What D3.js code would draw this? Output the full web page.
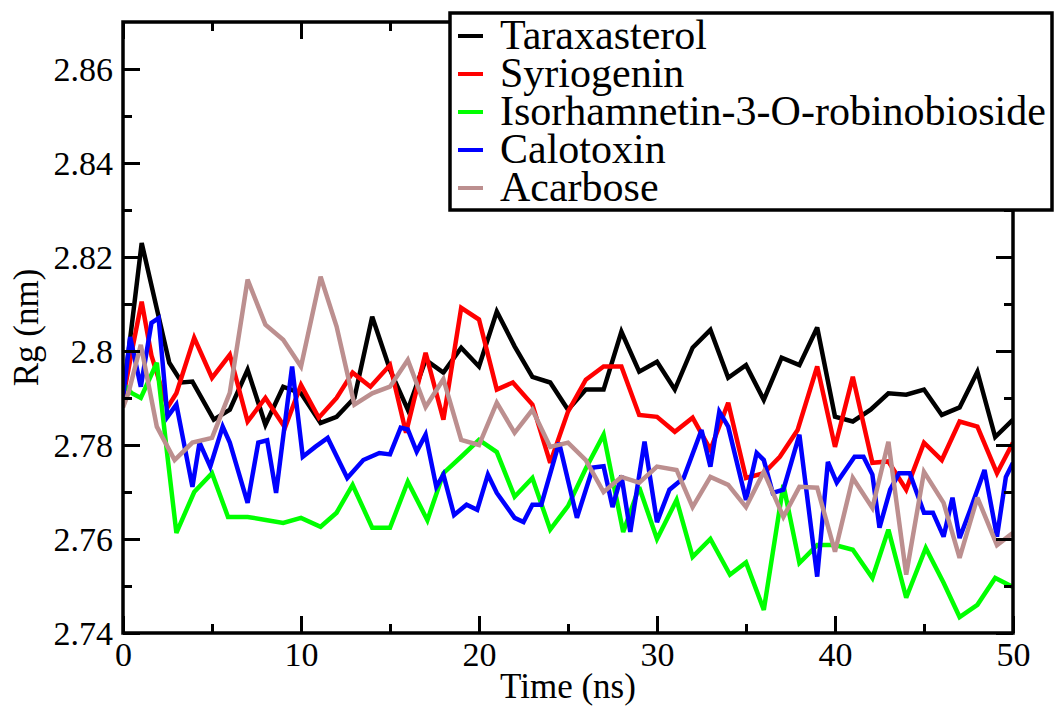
<!DOCTYPE html>
<html>
<head>
<meta charset="utf-8">
<script src="https://cdn.jsdelivr.net/npm/d3@7"></script>
<style>
  html, body { margin: 0; padding: 0; background: #fff; }
  svg { display: block; }
</style>
</head>
<body>
<svg id="chart" width="1054" height="707"></svg>
<script>
// ---- Data (time in ns, Rg in nm) ----
const seriesNames = ["Taraxasterol", "Syriogenin", "Isorhamnetin-3-O-robinobioside", "Calotoxin", "Acarbose"];
const seriesColors = ["#000000", "#ff0000", "#00ff00", "#0000ff", "#bc8f8f"];

const taraxasterol = [[0,2.790],[1.05,2.823],[1.9,2.809],[2.6,2.7975],[3.3,2.7933],[3.9,2.7935],[5.1,2.7854],[6,2.7875],[7,2.796],[8,2.7843],[9,2.7924],[10,2.791],[11.1,2.7847],[12,2.786],[13,2.790],[14,2.8073],[15,2.796],[16,2.7875],[17,2.7981],[18,2.7954],[19,2.8007],[20,2.7967],[21,2.8084],[22,2.801],[23,2.7945],[24,2.7933],[25,2.7875],[26,2.7918],[27,2.7918],[28,2.8041],[29,2.7956],[30,2.7977],[31,2.7918],[32,2.8007],[33,2.8045],[34,2.7943],[35,2.797],[36,2.7896],[37,2.7986],[38,2.797],[39,2.805],[40,2.786],[41,2.785],[42,2.7875],[43,2.791],[44,2.7907],[45,2.7918],[46,2.7864],[47,2.788],[48,2.7956],[49,2.7817],[50,2.7854]];

const syriogenin = [[0,2.790],[0.5,2.800],[1.05,2.8105],[1.6,2.799],[2.5,2.788],[3,2.791],[4,2.8028],[5,2.7943],[6,2.7992],[7,2.785],[8,2.790],[9.1,2.7837],[10,2.7928],[11,2.7858],[12,2.790],[12.9,2.7954],[13.9,2.7924],[15,2.797],[15.9,2.7826],[17,2.7996],[18,2.7854],[19,2.8092],[20,2.8067],[21,2.7918],[21.9,2.7933],[23,2.7886],[24,2.7762],[25,2.7871],[26,2.7939],[27,2.7967],[28,2.7967],[29,2.7864],[30,2.786],[31,2.7828],[32,2.7858],[33,2.779],[34,2.789],[35,2.773],[36,2.774],[36.9,2.7775],[37.9,2.7832],[39,2.7967],[40,2.7796],[41,2.7945],[42.1,2.7762],[43,2.7765],[44,2.7705],[45,2.7805],[46,2.7768],[47,2.785],[48,2.7839],[49.1,2.774],[50,2.7805]];

const isorhamnetin = [[0,2.793],[0.5,2.791],[1,2.790],[1.9,2.7975],[2.5,2.7775],[3,2.7613],[4,2.770],[5,2.774],[5.9,2.7647],[7,2.7647],[8.1,2.764],[9,2.7634],[10,2.7645],[11.1,2.7626],[12,2.7656],[12.9,2.7715],[14,2.7624],[15,2.7624],[16,2.7722],[17.1,2.764],[18,2.774],[19,2.7775],[20,2.7811],[21,2.7785],[22,2.769],[23,2.773],[24,2.762],[25,2.767],[26,2.775],[27,2.7822],[28.1,2.7615],[29,2.771],[30,2.760],[31.1,2.7683],[32,2.7562],[33,2.760],[34.1,2.7524],[35,2.755],[36,2.7449],[37.1,2.7715],[38,2.7549],[39,2.7587],[40,2.7587],[41,2.7577],[42.1,2.7517],[43,2.762],[44,2.7475],[45.1,2.7581],[46.1,2.7507],[47,2.7434],[48,2.746],[49,2.7517],[50,2.7498]];

const calotoxin = [[0,2.790],[0.4,2.803],[1,2.7924],[1.6,2.806],[2,2.807],[2.5,2.786],[3,2.7886],[3.9,2.7711],[4.3,2.7805],[4.9,2.7754],[5.6,2.7839],[6,2.7805],[7,2.7677],[7.6,2.7805],[8.1,2.781],[8.6,2.7698],[9.5,2.7967],[10.1,2.7775],[10.8,2.7796],[11.5,2.7815],[12.6,2.773],[13.5,2.7768],[14.4,2.7783],[15,2.778],[15.6,2.7837],[16,2.7833],[16.5,2.7786],[17,2.7822],[17.6,2.7711],[18,2.7737],[18.6,2.7651],[19.3,2.7673],[19.9,2.7662],[20.5,2.7737],[21,2.7698],[22,2.7645],[22.5,2.7636],[23,2.7673],[23.5,2.7673],[24.5,2.7805],[25.5,2.7645],[26.4,2.7752],[27,2.7755],[27.5,2.7668],[28,2.7735],[28.5,2.7615],[29.3,2.7807],[30,2.7636],[30.7,2.7705],[31.5,2.773],[32.5,2.7832],[33,2.7754],[33.5,2.7871],[34,2.7839],[35,2.7683],[35.6,2.7783],[36,2.7768],[36.5,2.7698],[37.1,2.7705],[38,2.7822],[39,2.752],[39.6,2.7764],[40.1,2.772],[41.1,2.7775],[41.6,2.7775],[42.1,2.7737],[42.5,2.7624],[43.1,2.7705],[43.6,2.774],[44.2,2.774],[45,2.7656],[45.5,2.7656],[46.1,2.7605],[46.6,2.7688],[47,2.7602],[47.6,2.7662],[48.4,2.7747],[49.1,2.7605],[49.6,2.7732],[50,2.7762]];

const acarbose = [[0,2.788],[0.3,2.791],[1,2.8013],[1.9,2.7839],[2.9,2.7768],[3.9,2.7805],[5,2.7815],[6,2.7911],[7,2.8152],[8,2.8056],[9,2.8024],[10,2.7967],[11.1,2.8158],[12,2.8052],[13,2.7886],[14,2.791],[15,2.7924],[16,2.7981],[17,2.7881],[18,2.794],[19,2.7811],[20,2.780],[21,2.789],[22,2.7826],[23,2.7875],[24,2.7796],[25,2.7805],[26,2.7768],[27,2.770],[28,2.7732],[29,2.772],[30,2.7754],[31.1,2.7747],[32,2.7668],[33,2.7732],[34,2.7715],[35,2.7668],[36,2.7743],[37.1,2.7647],[38,2.7711],[39,2.7709],[40,2.7573],[41,2.773],[42.1,2.7666],[43,2.7807],[44,2.7524],[45,2.7743],[46.1,2.7677],[47,2.756],[48,2.7688],[49.1,2.7587],[50,2.7613]];

const seriesData = [taraxasterol, syriogenin, isorhamnetin, calotoxin, acarbose];

const xMajorTicks = [0, 10, 20, 30, 40, 50];
const xMinorTicks = [5, 15, 25, 35, 45];
const yMajorTicks = [2.74, 2.76, 2.78, 2.80, 2.82, 2.84, 2.86];
const yMinorTicks = [2.75, 2.77, 2.79, 2.81, 2.83, 2.85];
const yTickLabels = ["2.74", "2.76", "2.78", "2.8", "2.82", "2.84", "2.86"];

const xLabel = "Time (ns)";
const yLabel = "Rg (nm)";

const FONT = "'Liberation Serif'";

// ---- Layout ----
const L = 123, R = 1013, T = 22, B = 633;
const svg = d3.select("#chart");

const x = d3.scaleLinear().domain([0, 50]).range([L, R]);
const y = d3.scaleLinear().domain([2.74, 2.87]).range([B, T]);

const line = d3.line().x(d => x(d[0])).y(d => y(d[1]));

svg.append("clipPath").attr("id", "clip")
  .append("rect").attr("x", L).attr("y", T).attr("width", R - L).attr("height", B - T);

const gLines = svg.append("g").attr("clip-path", "url(#clip)");
seriesData.forEach((s, i) => {
  gLines.append("path")
    .datum(s)
    .attr("d", line)
    .attr("fill", "none")
    .attr("stroke", seriesColors[i])
    .attr("stroke-width", 4.5)
    .attr("stroke-linejoin", "miter")
    .attr("stroke-miterlimit", 3);
});

// ---- Axes (ticks point inward, mirrored) ----
function styleAxis(g) {
  g.attr("font-family", null);
  g.select(".domain").remove();
  g.selectAll(".tick line").attr("stroke", "#000").attr("stroke-width", 3);
  g.selectAll(".tick text").style("font-family", FONT).attr("fill", "#000");
}
const majLen = 17, minLen = 9;

// bottom
const gxB = svg.append("g").attr("transform", `translate(0,${B})`)
  .call(d3.axisBottom(x).tickValues(xMajorTicks).tickSize(-majLen).tickPadding(10).tickFormat(d3.format("d")));
styleAxis(gxB);
gxB.selectAll(".tick text").style("font-size", "34px").attr("dy", "0.71em").attr("y", 9);
const gxBm = svg.append("g").attr("transform", `translate(0,${B})`)
  .call(d3.axisBottom(x).tickValues(xMinorTicks).tickSize(-minLen).tickFormat(""));
styleAxis(gxBm);

// top
const gxT = svg.append("g").attr("transform", `translate(0,${T})`)
  .call(d3.axisTop(x).tickValues(xMajorTicks).tickSize(-majLen).tickFormat(""));
styleAxis(gxT);
const gxTm = svg.append("g").attr("transform", `translate(0,${T})`)
  .call(d3.axisTop(x).tickValues(xMinorTicks).tickSize(-minLen).tickFormat(""));
styleAxis(gxTm);

// left
const gyL = svg.append("g").attr("transform", `translate(${L},0)`)
  .call(d3.axisLeft(y).tickValues(yMajorTicks).tickSize(-majLen).tickPadding(10)
    .tickFormat((d, i) => yTickLabels[i]));
styleAxis(gyL);
gyL.selectAll(".tick text").style("font-size", "34px").attr("x", -10).attr("dy", "0.34em");
const gyLm = svg.append("g").attr("transform", `translate(${L},0)`)
  .call(d3.axisLeft(y).tickValues(yMinorTicks).tickSize(-minLen).tickFormat(""));
styleAxis(gyLm);

// right
const gyR = svg.append("g").attr("transform", `translate(${R},0)`)
  .call(d3.axisRight(y).tickValues(yMajorTicks).tickSize(-majLen).tickFormat(""));
styleAxis(gyR);
const gyRm = svg.append("g").attr("transform", `translate(${R},0)`)
  .call(d3.axisRight(y).tickValues(yMinorTicks).tickSize(-minLen).tickFormat(""));
styleAxis(gyRm);

// frame
svg.append("rect")
  .attr("x", L).attr("y", T).attr("width", R - L).attr("height", B - T)
  .attr("fill", "none").attr("stroke", "#000").attr("stroke-width", 3.5);

// axis labels
svg.append("text")
  .attr("x", (L + R) / 2).attr("y", 698)
  .attr("text-anchor", "middle")
  .style("font-family", FONT).style("font-size", "35px")
  .text(xLabel);

svg.append("text")
  .attr("transform", `translate(38,${(T + B) / 2}) rotate(-90)`)
  .attr("text-anchor", "middle")
  .style("font-family", FONT).style("font-size", "35px")
  .text(yLabel);

// ---- Legend ----
const lg = svg.append("g");
lg.append("rect")
  .attr("x", 450).attr("y", 13).attr("width", 602).attr("height", 197)
  .attr("fill", "#fff").attr("stroke", "#000").attr("stroke-width", 3.5);
seriesNames.forEach((name, i) => {
  const by = 49 + i * 38;
  lg.append("line")
    .attr("x1", 458).attr("x2", 483)
    .attr("y1", by - 13).attr("y2", by - 13)
    .attr("stroke", seriesColors[i]).attr("stroke-width", 4);
  lg.append("text")
    .attr("x", 500).attr("y", by)
    .style("font-family", FONT).style("font-size", "42px")
    .text(name);
});
</script>
</body>
</html>
